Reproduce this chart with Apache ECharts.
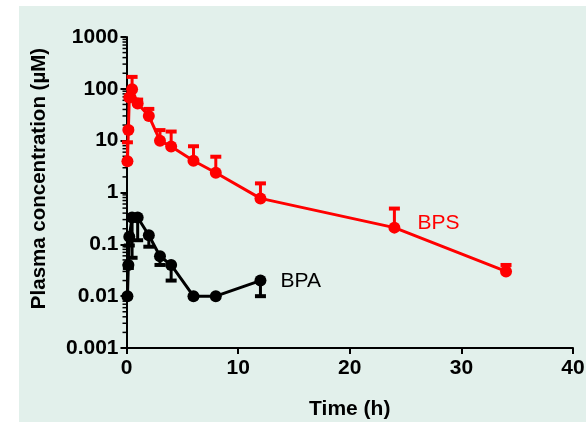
<!DOCTYPE html>
<html>
<head>
<meta charset="utf-8">
<script src="https://cdn.jsdelivr.net/npm/echarts@6/dist/echarts.min.js"></script>
<style>
  html, body { margin: 0; padding: 0; background: #ffffff; }
  #bg { position: absolute; left: 19px; top: 6px; width: 567px; height: 416px; background: #e2f0eb; }
  #chart { position: absolute; left: 0; top: 0; width: 586px; height: 422px; }
</style>
</head>
<body>
<div id="bg"></div>
<div id="chart"></div>
<script>
// values
var bpsTime  = [0.083, 0.167, 0.25, 0.5, 1, 2, 3, 4, 6, 8, 12, 24, 34];
var bpsMean  = [4.0, 16, 68, 98, 52, 30, 10, 7.7, 4.1, 2.4, 0.77, 0.21, 0.03];
var bpsUpper = [9.3, 17, 70, 170, 62, 41, 16, 15, 7.8, 4.9, 1.5, 0.49, 0.04];

var bpaTime  = [0.083, 0.167, 0.25, 0.5, 1, 2, 3, 4, 6, 8, 12];
var bpaMean  = [0.01, 0.04, 0.14, 0.33, 0.33, 0.15, 0.059, 0.04, 0.01, 0.01, 0.02];
var bpaLower = [0.01, 0.035, 0.095, 0.055, 0.12, 0.09, 0.04, 0.02, 0.01, 0.01, 0.01];

var yTickLabels = ['0.001', '0.01', '0.1', '1', '10', '100', '1000'];
var xTicks = [0, 10, 20, 30, 40];

var FONT = 'Liberation Sans, Arial, sans-serif';
var RED = '#ff0000';
var BLACK = '#000000';

// minor tick positions of the log axis (2..9 in each decade)
var minorTicks = [];
for (var d = -3; d < 3; d++) {
    for (var m = 2; m <= 9; m++) {
        minorTicks.push([0, m * Math.pow(10, d)]);
    }
}

function zip3(a, b, c) {
    return a.map(function (v, i) { return [v, b[i], c[i]]; });
}

function errorBar(color) {
    return function (params, api) {
        var p = api.coord([api.value(0), api.value(1)]);
        var e = api.coord([api.value(0), api.value(2)]);
        if (Math.abs(e[1] - p[1]) < 1) return null;
        return {
            type: 'group',
            children: [{
                type: 'line',
                shape: { x1: p[0], y1: p[1], x2: e[0], y2: e[1] },
                style: { stroke: color, lineWidth: 3 }
            }, {
                type: 'rect',
                shape: { x: e[0] - 5.5, y: e[1] - 2, width: 11, height: 4 },
                style: { fill: color }
            }]
        };
    };
}

var bpsData = bpsTime.map(function (t, i) { return [t, bpsMean[i]]; });
var bpaData = bpaTime.map(function (t, i) { return [t, bpaMean[i]]; });

bpsData[11] = {
    value: bpsData[11],
    label: {
        show: true, position: 'right', distance: 17, offset: [0, -4],
        formatter: 'BPS', color: RED, fontSize: 21, fontFamily: FONT
    }
};
bpaData[10] = {
    value: bpaData[10],
    label: {
        show: true, position: 'right', distance: 14, offset: [0, 1],
        formatter: 'BPA', color: BLACK, fontSize: 21, fontFamily: FONT
    }
};

var chart = echarts.init(document.getElementById('chart'));

var option = {
    animation: false,
    backgroundColor: 'transparent',
    grid: { left: 126.5, right: 13, top: 37, bottom: 74, outerBoundsMode: 'none', containLabel: false },
    xAxis: {
        type: 'value',
        min: xTicks[0],
        max: xTicks[xTicks.length - 1],
        interval: 10,
        name: 'Time (h)',
        nameLocation: 'middle',
        nameGap: 51,
        nameTextStyle: { fontSize: 21, fontWeight: 'bold', fontFamily: FONT, color: BLACK },
        axisLine: { lineStyle: { color: BLACK, width: 2 } },
        axisTick: { length: 6, lineStyle: { color: BLACK, width: 2 } },
        axisLabel: { fontSize: 21, fontWeight: 'bold', fontFamily: FONT, color: BLACK, margin: 10 },
        splitLine: { show: false }
    },
    yAxis: {
        type: 'log',
        logBase: 10,
        min: 0.001,
        max: 1000,
        interval: 1,
        name: 'Plasma concentration (\u00b5M)',
        nameLocation: 'middle',
        nameGap: 77,
        nameTextStyle: {
            fontSize: 20.5, fontWeight: 'bold', fontFamily: FONT, color: BLACK,
            padding: [0, 0, 0, 28]
        },
        axisLine: { show: true, lineStyle: { color: BLACK, width: 2 } },
        axisTick: { show: true, length: 6, lineStyle: { color: BLACK, width: 2 } },
        axisLabel: {
            fontSize: 21, fontWeight: 'bold', fontFamily: FONT, color: BLACK, margin: 8,
            formatter: function (v, i) { return yTickLabels[i]; }
        },
        splitLine: { show: false }
    },
    series: [{
        type: 'custom',
        data: minorTicks,
        silent: true,
        z: 1,
        renderItem: function (params, api) {
            var p = api.coord([api.value(0), api.value(1)]);
            return {
                type: 'line',
                shape: { x1: p[0] - 4, y1: p[1], x2: p[0], y2: p[1] },
                style: { stroke: BLACK, lineWidth: 1.5 }
            };
        }
    }, {
        type: 'custom',
        data: zip3(bpsTime, bpsMean, bpsUpper),
        renderItem: errorBar(RED),
        z: 2
    }, {
        type: 'custom',
        data: zip3(bpaTime, bpaMean, bpaLower),
        renderItem: errorBar(BLACK),
        z: 2
    }, {
        name: 'BPS',
        type: 'line',
        data: bpsData,
        symbol: 'circle',
        symbolSize: 12,
        lineStyle: { color: RED, width: 3 },
        itemStyle: { color: RED },
        z: 3
    }, {
        name: 'BPA',
        type: 'line',
        data: bpaData,
        symbol: 'circle',
        symbolSize: 12,
        lineStyle: { color: BLACK, width: 3 },
        itemStyle: { color: BLACK },
        z: 3
    }]
};

chart.setOption(option);
window.addEventListener('resize', chart.resize);
</script>
</body>
</html>
